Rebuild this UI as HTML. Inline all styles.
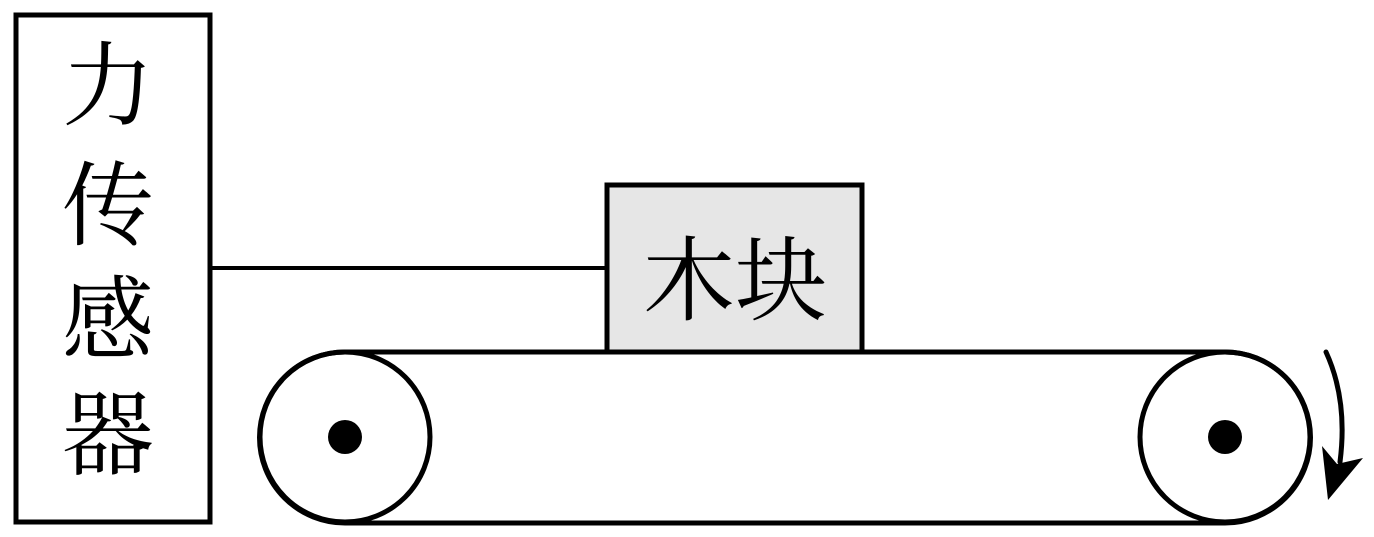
<!DOCTYPE html>
<html><head><meta charset="utf-8"><style>
body{margin:0;background:#fff;width:1374px;height:537px;overflow:hidden}
svg{display:block}
text{font-family:"Liberation Serif","Noto Serif CJK SC",serif;font-size:92px;fill:#000}
</style></head><body>
<svg width="1374" height="537" viewBox="0 0 1374 537">
<rect x="16" y="15" width="194" height="507" fill="#fff" stroke="#000" stroke-width="5"/>
<text x="108" y="118" text-anchor="middle">力</text>
<text x="108" y="238" text-anchor="middle">传</text>
<text x="108" y="352" text-anchor="middle">感</text>
<text x="108" y="467" text-anchor="middle">器</text>
<line x1="210" y1="268" x2="607" y2="268" stroke="#000" stroke-width="4"/>
<rect x="607" y="185" width="255" height="167" fill="#e6e6e6" stroke="#000" stroke-width="5"/>
<text x="735" y="313" text-anchor="middle">木块</text>
<path d="M345 352 H1225 A85.5 85.5 0 0 1 1225 523 H345 A85.5 85.5 0 0 1 345 352 Z" fill="none" stroke="#000" stroke-width="5"/>
<circle cx="345" cy="437" r="85" fill="none" stroke="#000" stroke-width="5"/>
<circle cx="1225" cy="437" r="85" fill="none" stroke="#000" stroke-width="5"/>
<circle cx="345" cy="437" r="17" fill="#000"/>
<circle cx="1225" cy="437" r="17" fill="#000"/>
<path d="M1326 352 Q1348 400 1340 462" fill="none" stroke="#000" stroke-width="5" stroke-linecap="round"/>
<polygon points="1322,446 1337,464 1363,458 1328,500" fill="#000"/>
</svg>
</body></html>
